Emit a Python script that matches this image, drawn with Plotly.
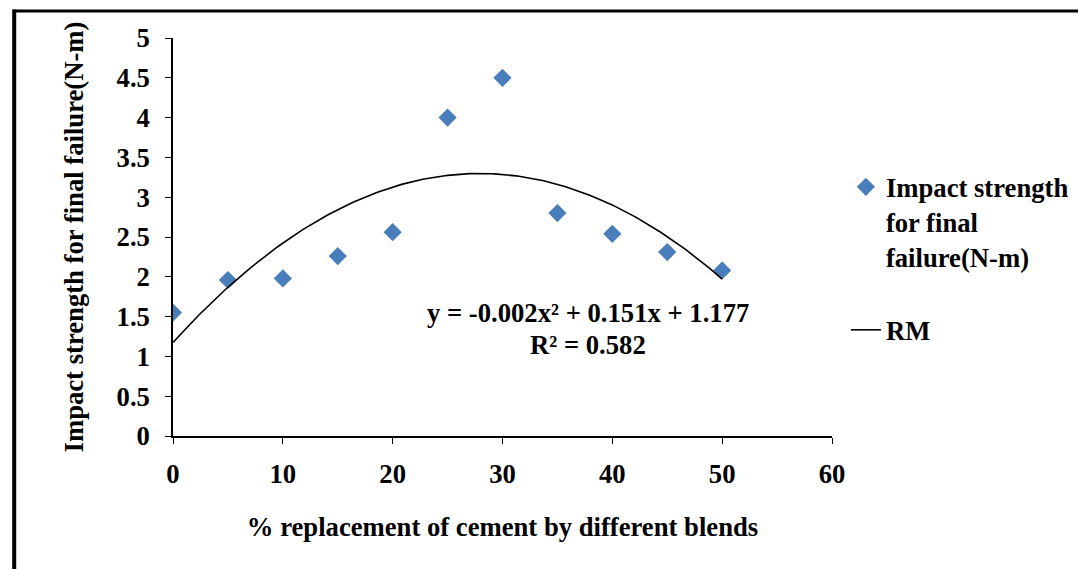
import numpy as np
import plotly.graph_objects as go

# ---- data ----
replacement_pct = [0, 5, 10, 15, 20, 25, 30, 35, 40, 45, 50]
impact_strength = [1.55, 1.96, 1.98, 2.26, 2.56, 4.0, 4.5, 2.8, 2.54, 2.31, 2.08]
series_name = "Impact strength<br>for final<br>failure(N-m)"
trend_name = "RM"
eq_line1 = "y = -0.002x² + 0.151x + 1.177"
eq_line2 = "R² = 0.582"
x_title = "% replacement of cement by different blends"
y_title = "Impact strength for final failure(N-m)"

# quadratic trendline fitted to the data
coef = np.polyfit(replacement_pct, impact_strength, 2)
xt = np.linspace(0, 50, 201)
yt = np.polyval(coef, xt)

FONT = "Times New Roman, Liberation Serif, serif"
FS = 26.67
fnt = dict(family=FONT, size=FS, color="black", weight="bold")

fig = go.Figure()
fig.add_trace(go.Scatter(
    x=replacement_pct, y=impact_strength, mode="markers", name=series_name,
    marker=dict(symbol="diamond", size=14, color="#4a7ebb"), legend="legend"))
fig.add_trace(go.Scatter(
    x=xt, y=yt, mode="lines", name=trend_name,
    line=dict(color="black", width=1.6), legend="legend2"))

fig.add_annotation(x=37.8, y=1.545, text=eq_line1, showarrow=False,
                   font=fnt, xanchor="center", yanchor="middle")
fig.add_annotation(x=37.8, y=1.143, text=eq_line2, showarrow=False,
                   font=fnt, xanchor="center", yanchor="middle")

# page body has an 8px margin, so figure coords = screen coords - 8
OFF = 8
W, H = 1086 - OFF, 569 - OFF
L, T = 173 - OFF, 38 - OFF
R = W - (837 - OFF)
B = H - (436 - OFF)
pw, ph = W - L - R, H - T - B

def px(sx):
    return (sx - OFF - L) / pw

def py(sy):
    return (H - B - (sy - OFF)) / ph

# outer frame (left and top edges visible)
fig.add_shape(type="line", xref="paper", yref="paper",
              x0=px(12), x1=px(1100), y0=py(11), y1=py(11),
              line=dict(color="black", width=3))
fig.add_shape(type="line", xref="paper", yref="paper",
              x0=px(13), x1=px(13), y0=py(9.5), y1=py(580),
              line=dict(color="black", width=4))

fig.update_layout(
    width=W, height=H,
    margin=dict(l=L, r=R, t=T, b=B, pad=0),
    paper_bgcolor="white", plot_bgcolor="white",
    font=fnt,
    legend=dict(x=px(851), y=py(163), xanchor="left", yanchor="top",
                font=fnt, valign="top", bgcolor="rgba(0,0,0,0)"),
    legend2=dict(x=px(851), y=py(306), xanchor="left", yanchor="top",
                 font=fnt, bgcolor="rgba(0,0,0,0)"),
    showlegend=True,
)
fig.update_xaxes(range=[0, 60], tick0=0, dtick=10, showline=True, linecolor="black",
                 linewidth=1.5, ticks="outside", ticklen=6, tickcolor="black",
                 showgrid=False, zeroline=False, tickfont=fnt, ticklabelstandoff=7,
                 title=dict(text=x_title, font=fnt, standoff=30))
fig.update_yaxes(range=[0, 5], tick0=0, dtick=0.5, showline=True, linecolor="black",
                 linewidth=1.5, ticks="outside", ticklen=6, tickcolor="black",
                 showgrid=False, zeroline=False, tickfont=fnt, ticklabelstandoff=10,
                 title=dict(text=y_title, font=fnt, standoff=25))

fig.write_html("out.html")
